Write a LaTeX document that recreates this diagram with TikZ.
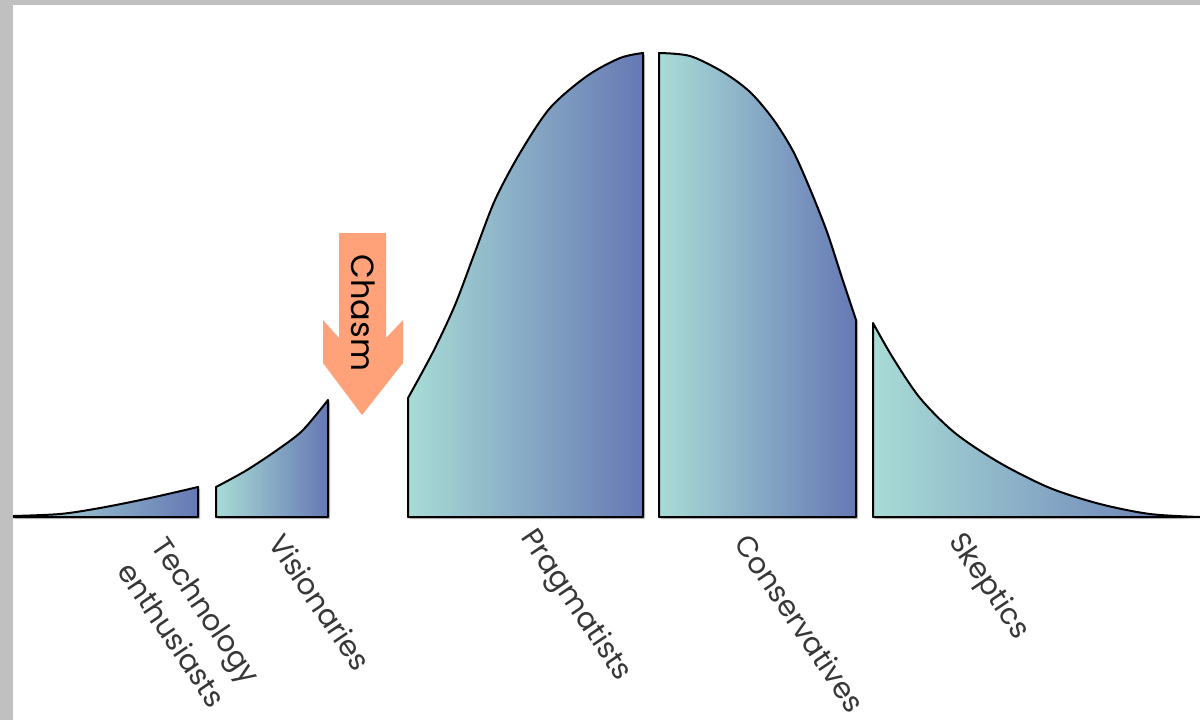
\documentclass[tikz,border=0pt]{standalone}
\usepackage{fontspec}
\setmainfont{Poppins}
\definecolor{segL}{RGB}{168,220,214}
\definecolor{segR}{RGB}{102,120,180}
\definecolor{shadowgray}{RGB}{200,200,200}
\definecolor{framegray}{RGB}{192,192,192}
\definecolor{chasmcol}{RGB}{255,162,122}
\definecolor{labelgray}{RGB}{55,55,55}
\tikzset{
  seg/.style={left color=segL, right color=segR, draw=black, line width=1pt, line join=round},
  segshadow/.style={fill=shadowgray, shift={(2,2)}},
  lab/.style={rotate=-56, text=labelgray, font=\fontsize{14.5}{21}\selectfont, inner sep=0pt},
}
\def\techpath{(13,517) -- plot[smooth] coordinates {(13,516) (60,514) (100,508) (150,498) (198,487)} -- (198,517) -- cycle}
\def\vispath{(216,517) -- plot[smooth] coordinates {(216,487) (247,470) (280,448) (303,430) (328,400)} -- (328,517) -- cycle}
\def\pragpath{(408,517) -- plot[smooth] coordinates {(408,398) (433,352) (455,305) (475,252) (495,200) (520,153) (550,108) (587,76) (620,58) (643,53)} -- (643,517) -- cycle}
\def\conspath{(659,517) -- plot[smooth] coordinates {(659,53) (690,56) (723,72) (750,92) (773,119) (793,151) (810,189) (827,232) (842,278) (856,320)} -- (856,517) -- cycle}
\def\skeppath{(873,517) -- plot[smooth] coordinates {(873,323) (893,358) (920,398) (955,433) (1000,463) (1050,488) (1100,504) (1150,514) (1200,517)} -- (1200,517) -- cycle}
\begin{document}
\begin{tikzpicture}[x=0.5pt,y=-0.5pt]
\useasboundingbox (0,0) rectangle (1200,720);
\fill[white] (0,0) rectangle (1200,720);
% shadows
\fill[segshadow] \techpath;
\fill[segshadow] \vispath;
\fill[segshadow] \pragpath;
\fill[segshadow] \conspath;
\fill[segshadow] \skeppath;
% segments
\path[seg] \techpath;
\path[seg] \vispath;
\path[seg] \pragpath;
\path[seg] \conspath;
\path[seg] \skeppath;
% chasm arrow
\fill[chasmcol] (339,233) -- (386,233) -- (386,338) -- (403,320) -- (403,363) -- (362,415) -- (323,363) -- (323,320) -- (339,338) -- cycle;
\node[rotate=-90, text=black, font=\fontsize{16}{20}\selectfont, inner sep=0pt] (chasm) at (363,313) {Chasm};
% labels
\node[lab, align=right] (tech) at (189,622) {Technology\\enthusiasts};
\node[lab] (vis) at (320,602) {Visionaries};
\node[lab] (prag) at (575,606) {Pragmatists};
\node[lab] (cons) at (800,623) {Conservatives};
\node[lab] (skep) at (988,587) {Skeptics};
% frame
\fill[framegray] (0,0) rectangle (1200,5);
\fill[framegray] (0,0) rectangle (13,720);
\end{tikzpicture}
\end{document}
